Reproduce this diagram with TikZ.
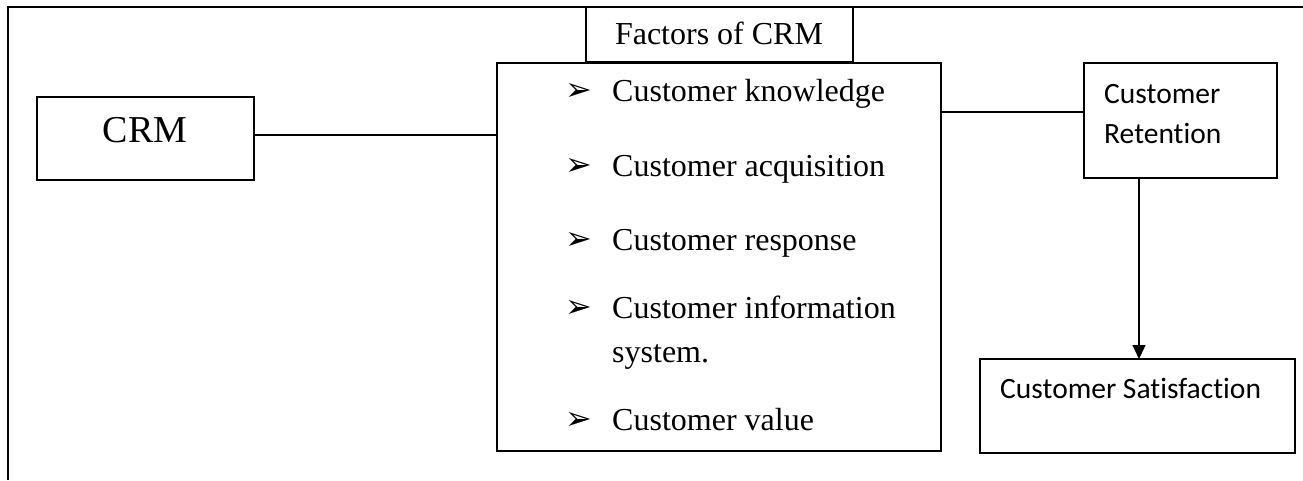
\documentclass[tikz,border=0pt]{standalone}
\usepackage{fontspec}
\setmainfont{Liberation Serif}
\newfontfamily\calibrifont[Ligatures=NoCommon]{Carlito}
\newfontfamily\dingfont{DejaVu Sans}
\usetikzlibrary{arrows.meta}

\tikzset{
  box/.style={draw, line width=1.3pt, inner sep=0pt, outer sep=0pt, anchor=north west},
  serif/.style={font=\fontsize{32}{44}\selectfont, inner sep=0pt, anchor=base west},
  sans/.style={font=\calibrifont\fontsize{29.5}{40}\selectfont, inner sep=0pt, anchor=base west},
  pointer/.style={font=\dingfont\fontsize{32}{32}\selectfont, inner sep=0pt, anchor=base west},
}

\begin{document}
\begin{tikzpicture}[x=1pt, y=-1pt]
    \useasboundingbox (0,0) rectangle (1303,480);
    % Frame (cut off at right and bottom)
    \draw[line width=1.3pt] (8,480) -- (8,7) -- (1303,7);

    % Boxes
    \node[box, minimum width=217pt, minimum height=83pt] (crm) at (37,97) {};
    \node[box, minimum width=267pt, minimum height=55pt] (title) at (586,7) {};
    \node[box, minimum width=444pt, minimum height=388pt] (list) at (497,63) {};
    \node[box, minimum width=193pt, minimum height=115pt] (ret) at (1084,63) {};
    \node[box, minimum width=315pt, minimum height=94pt] (sat) at (980,359) {};

    % Texts
    \node[font=\fontsize{38}{44}\selectfont, inner sep=0pt, anchor=base] (crmtext) at (145,142) {CRM};
    \node[serif, anchor=base] (titletext) at (719,44) {Factors of CRM};
    \foreach \y/\txt [count=\i] in {101/Customer knowledge, 176/Customer acquisition, 250/Customer response, 318/Customer information, 430/Customer value} {
        \node[pointer] (bullet\i) at (565,\y-1) {➢};
        \node[serif] (item\i) at (612,\y) {\txt};
    }
    \node[serif] (item4b) at (612,362) {system.};
    \node[sans] (rettext) at (1104,103) {Customer};
    \node[sans] (rettextb) at (1104,143) {Retention};
    \node[sans] (sattext) at (1000,398) {Customer Satisfaction};

    % Connectors
    \coordinate (crmout) at ([yshift=3.5pt]crm.east);
    \draw[line width=1.3pt] (crmout) -- (crmout -| list.west);
    \coordinate (retin) at ([yshift=8.5pt]ret.west);
    \draw[line width=1.3pt] (retin -| list.east) -- (retin);
    \coordinate (retdown) at ([xshift=-41.5pt]ret.south);
    \draw[line width=1.3pt, -{Triangle[width=13pt,length=14pt]}] (retdown) -- (retdown |- sat.north);
\end{tikzpicture}
\end{document}
